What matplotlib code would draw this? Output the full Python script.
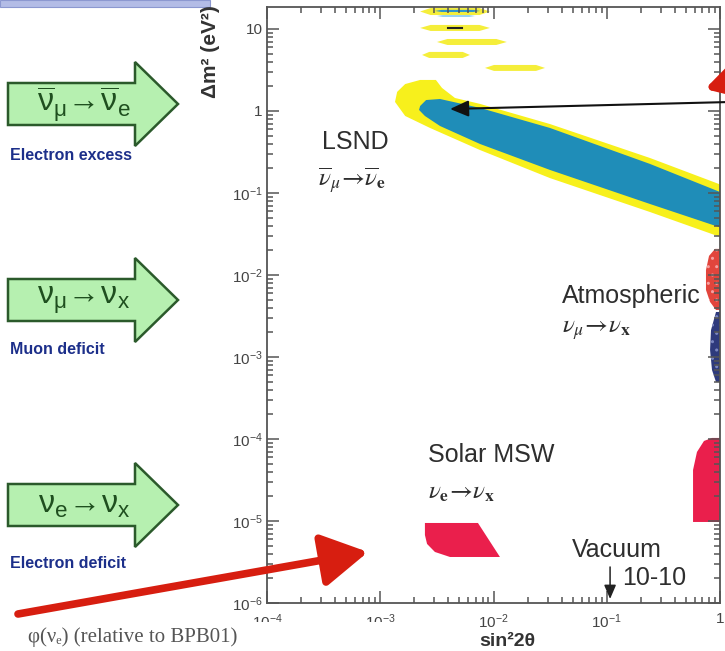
import numpy as np
import matplotlib.pyplot as plt
from matplotlib.patches import Polygon, Rectangle
from matplotlib.text import Annotation
from matplotlib.ticker import FixedLocator, FixedFormatter, LogLocator, NullFormatter

plt.rcParams['font.family'] = ['Liberation Sans', 'DejaVu Sans']
plt.rcParams['mathtext.fontset'] = 'custom'
plt.rcParams['mathtext.rm'] = 'Liberation Sans'
plt.rcParams['mathtext.it'] = 'Liberation Sans:italic'
plt.rcParams['mathtext.bf'] = 'Liberation Sans:bold'

W, H = 725, 651

# axis ticks
x_ticks = [1e-4, 1e-3, 1e-2, 1e-1, 1]
x_tick_labels = [r"$10^{-4}$", r"$10^{-3}$", r"$10^{-2}$", r"$10^{-1}$", "1"]
y_ticks = [1e-6, 1e-5, 1e-4, 1e-3, 1e-2, 1e-1, 1, 10]
y_tick_labels = [r"$10^{-6}$", r"$10^{-5}$", r"$10^{-4}$", r"$10^{-3}$",
                 r"$10^{-2}$", r"$10^{-1}$", "1", "10"]

# LSND allowed regions (sin^2 2theta, dm^2)
lsnd90_s2t = [1.35e-3, 1.41e-3, 1.66e-3, 2.25e-3, 3.10e-3, 3.51e-3, 4.57e-3, 7.6e-3,
              3.15e-2, 0.241, 1.5, 1.5, 0.241, 3.15e-2, 7.6e-3, 2.75e-3, 1.66e-3]
lsnd90_dm2 = [1.29, 1.71, 2.13, 2.39, 2.39, 1.91, 1.44, 1.22,
              0.693, 0.267, 0.103, 0.0239, 0.0586, 0.152, 0.334, 0.621, 0.869]
lsnd99_s2t = [2.25e-3, 2.54e-3, 3.37e-3, 7.6e-3, 3.15e-2, 0.241, 1.5,
              1.5, 0.241, 3.15e-2, 7.6e-3, 3.37e-3, 2.48e-3, 2.2e-3]
lsnd99_dm2 = [1.15, 1.36, 1.40, 1.09, 0.621, 0.226, 0.0822,
              0.0316, 0.0734, 0.191, 0.396, 0.656, 0.869, 1.03]

# small high dm^2 islands at the top
isl_s2t_lo = [2.25e-3, 2.25e-3, 3.17e-3, 2.34e-3, 8.41e-3, 3.04e-3, 3.17e-3]
isl_s2t_hi = [9.3e-3, 9.3e-3, 1.31e-2, 6.19e-3, 2.85e-2, 7.6e-3, 6.87e-3]
isl_dm2_lo = [14.8, 9.46, 6.38, 4.43, 3.08, 16.1, 14.0]
isl_dm2_hi = [18.0, 11.2, 7.55, 5.25, 3.64, 17.1, 14.8]
isl_kind = ['y', 'y', 'y', 'y', 'y', 'b', 'lb']

# atmospheric
atm_red_s2t = [0.904, 0.80, 0.752, 0.752, 0.817, 0.922, 1.5, 1.5]
atm_red_dm2 = [0.0208, 0.0171, 0.0115, 6.56e-3, 4.69e-3, 3.74e-3, 3.74e-3, 0.0208]
atm_blue_s2t = [0.922, 0.833, 0.817, 0.85, 0.922, 1.5, 1.5]
atm_blue_dm2 = [3.54e-3, 2.13e-3, 1.22e-3, 6.93e-4, 4.96e-4, 4.96e-4, 3.54e-3]

# solar
lma_s2t = [0.578, 0.578, 0.626, 0.722, 0.85, 1.5, 1.5, 0.578]
lma_dm2 = [9.73e-6, 4.19e-5, 6.94e-5, 9.46e-5, 1.03e-4, 1.03e-4, 9.73e-6, 9.73e-6]
sma_s2t = [2.48e-3, 7.29e-3, 1.14e-2, 4.13e-3, 3.04e-3, 2.59e-3, 2.48e-3]
sma_dm2 = [9.46e-6, 9.46e-6, 3.64e-6, 3.64e-6, 4.19e-6, 5.25e-6, 6.75e-6]

vac_s2t = 0.107
vac_dm2 = [2.75e-6, 1.12e-6]


def fx(px):
    return px / W


def fy(py):
    return 1 - py / H


fig = plt.figure(figsize=(7.25, 6.51), dpi=100)
ax = fig.add_axes([fx(267), fy(603), (720 - 267) / W, (603 - 7) / H])
ax.set_xscale('log')
ax.set_yscale('log')
ax.set_xlim(1e-4, 1)
ax.set_ylim(1e-6, 10 ** 1.268)

ax.fill(lsnd90_s2t, lsnd90_dm2, color='#f7f01c', lw=0)
ax.fill(lsnd99_s2t, lsnd99_dm2, color='#1f8db8', lw=0)

colors = {'y': '#f5ee3a', 'b': '#2e95c8', 'lb': '#9ad3ef'}
for x0, x1, y0, y1, k in zip(isl_s2t_lo, isl_s2t_hi, isl_dm2_lo, isl_dm2_hi, isl_kind):
    ym = np.sqrt(y0 * y1)
    xa = x0 * (x1 / x0) ** 0.15
    xb = x0 * (x1 / x0) ** 0.85
    ax.fill([x0, xa, xb, x1, xb, xa], [ym, y1, y1, ym, y0, y0], color=colors[k], lw=0)
ax.plot([3.96e-3, 5.27e-3], [10.3, 10.3], color='#222', lw=1.5)

ax.fill(atm_red_s2t, atm_red_dm2, facecolor='#e2453c', edgecolor='#f6a0a0',
        hatch='..', lw=0)
ax.fill(atm_blue_s2t, atm_blue_dm2, facecolor='#2e3a7c', edgecolor='#7a86c0',
        hatch='..', lw=0)
ax.fill(lma_s2t, lma_dm2, color='#ea1f4c', lw=0)
ax.fill(sma_s2t, sma_dm2, color='#ea1f4c', lw=0)

ax.annotate('', xy=(vac_s2t, vac_dm2[1]), xytext=(vac_s2t, vac_dm2[0]),
            arrowprops=dict(arrowstyle='-|>,head_length=0.7,head_width=0.3',
                            mutation_scale=12, lw=1.1, color='#222',
                            shrinkA=0, shrinkB=0))

# axes styling
ax.xaxis.set_major_locator(FixedLocator(x_ticks))
ax.xaxis.set_major_formatter(FixedFormatter(x_tick_labels))
ax.yaxis.set_major_locator(FixedLocator(y_ticks))
ax.yaxis.set_major_formatter(FixedFormatter(y_tick_labels))
ax.xaxis.set_minor_locator(LogLocator(base=10, subs=range(2, 10), numticks=50))
ax.yaxis.set_minor_locator(LogLocator(base=10, subs=range(2, 10), numticks=50))
ax.xaxis.set_minor_formatter(NullFormatter())
ax.yaxis.set_minor_formatter(NullFormatter())
ax.tick_params(which='both', direction='in', top=True, right=True,
               color='#555', width=1.1, labelcolor='#444', labelsize=11)
ax.tick_params(which='major', length=8.5)
ax.tick_params(which='minor', length=4.5)
ax.tick_params(axis='y', pad=3)
ax.tick_params(axis='x', pad=6.5)
for s in ax.spines.values():
    s.set_color('#555')
    s.set_linewidth(1.3)

# labels inside the plot
tc = '#2e2e2e'
fig.text(fx(322), fy(142), "LSND", fontsize=18, color=tc, va='center')
fig.text(fx(318), fy(180), r"$\overline{\nu}_{\mu}\!\rightarrow\!\overline{\nu}_{\mathbf{e}}$",
         fontsize=18, color=tc, va='center', math_fontfamily='stix')
fig.text(fx(562), fy(296), "Atmospheric", fontsize=18, color=tc, va='center')
fig.text(fx(562), fy(330), r"$\nu_{\mu}\!\rightarrow\!\nu_{\mathbf{x}}$",
         fontsize=18, color=tc, va='center', math_fontfamily='stix')
fig.text(fx(428), fy(455), "Solar MSW", fontsize=18, color=tc, va='center')
fig.text(fx(428), fy(492), r"$\nu_{\mathbf{e}}\!\rightarrow\!\nu_{\mathbf{x}}$",
         fontsize=18, color=tc, va='center', math_fontfamily='stix')
fig.text(fx(572), fy(550), "Vacuum", fontsize=18, color=tc, va='center')
fig.text(fx(622), fy(578), "10-10", fontsize=18, color=tc, va='center')

# y label, partly cut at the top
fig.text(fx(210), fy(52), "Δm² (eV²)", rotation=90, fontsize=15, fontweight='bold',
         color='#333', ha='center', va='center')

# slide heading bar, cut at the top
fig.patches.append(Rectangle((0, fy(7)), fx(210), 7 / H, transform=fig.transFigure,
                             facecolor='#b3bce6', edgecolor='#8c98d0', lw=0.8, zorder=1))

# green block arrows with transitions
arrow_mid = [104, 300, 505]
arrow_txt = [r"$\overline{\mathrm{\nu}}_{\mathrm{\mu}}\!\rightarrow\!\overline{\mathrm{\nu}}_{\mathrm{e}}$",
             r"$\mathrm{\nu}_{\mathrm{\mu}}\!\rightarrow\!\mathrm{\nu}_{\mathrm{x}}$",
             r"$\mathrm{\nu}_{\mathrm{e}}\!\rightarrow\!\mathrm{\nu}_{\mathrm{x}}$"]
arrow_sub = ["Electron excess", "Muon deficit", "Electron deficit"]
sub_y = [155, 350, 563]
for ym, t, s, sy in zip(arrow_mid, arrow_txt, arrow_sub, sub_y):
    pts = [(8, ym - 21), (135, ym - 21), (135, ym - 42), (178, ym), (135, ym + 42),
           (135, ym + 21), (8, ym + 21)]
    fig.patches.append(Polygon([(fx(a), fy(b)) for a, b in pts], closed=True,
                               transform=fig.transFigure, facecolor='#b6f0b0',
                               edgecolor='#2b5a2b', lw=1.8, zorder=2))
    fig.text(fx(84), fy(ym), t, fontsize=23, color='#1f4f1f', ha='center',
             va='center', zorder=3)
    fig.text(fx(10), fy(sy), s, fontsize=11.5, fontweight='bold', color='#1c2f8a',
             family=['Liberation Sans Narrow', 'Liberation Sans'], va='center', zorder=3)

# bottom caption box covering the lower tick labels
fig.patches.append(Rectangle((0, 0), fx(477), fy(622), transform=fig.transFigure,
                             facecolor='white', edgecolor='none', zorder=5))
fig.text(fx(28), fy(637), "φ(νₑ) (relative to BPB01)", fontsize=15, color='#555',
         family=['Liberation Serif', 'DejaVu Serif'], va='center', zorder=6)
fig.text(fx(507), fy(642), "sin²2θ", fontsize=14, fontweight='bold', color='#333',
         ha='center', va='center', zorder=6)

# pointer arrows
fig.add_artist(Annotation('', xy=(fx(368), fy(552)), xytext=(fx(18), fy(614)),
                          xycoords='figure fraction', textcoords='figure fraction',
                          arrowprops=dict(arrowstyle='-|>,head_length=0.7,head_width=0.4',
                                          mutation_scale=40, lw=5.5, color='#d71e10',
                                          shrinkA=0, shrinkB=0), zorder=8))
fig.add_artist(Annotation('', xy=(fx(705), fy(89)), xytext=(fx(800), fy(62)),
                          xycoords='figure fraction', textcoords='figure fraction',
                          arrowprops=dict(arrowstyle='-|>,head_length=0.7,head_width=0.4',
                                          mutation_scale=40, lw=5.5, color='#d71e10',
                                          shrinkA=0, shrinkB=0), zorder=8))
fig.add_artist(Annotation('', xy=(fx(450), fy(109)), xytext=(fx(730), fy(102)),
                          xycoords='figure fraction', textcoords='figure fraction',
                          arrowprops=dict(arrowstyle='-|>,head_length=0.8,head_width=0.35',
                                          mutation_scale=14, lw=1.5, color='#111',
                                          shrinkA=0, shrinkB=0), zorder=8))

fig.savefig("out.png", dpi=100)
